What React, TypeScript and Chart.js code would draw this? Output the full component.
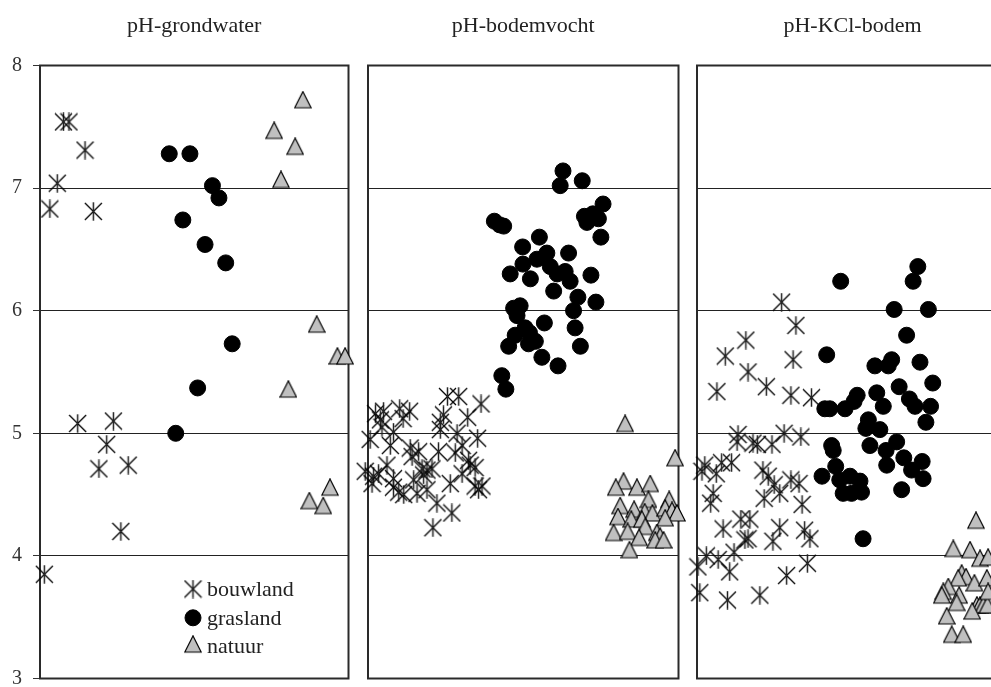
import React, { useEffect, useRef } from 'react';
import { Chart, registerables } from 'chart.js';
import { drawPoint } from 'chart.js/helpers';

Chart.register(...registerables);

// ---- Data (x = position within panel, 0..100; y = pH) ----
const Y_TICKS = [3, 4, 5, 6, 7, 8];
const PANEL_TITLES = ['pH-grondwater', 'pH-bodemvocht', 'pH-KCl-bodem'];
const SERIES_NAMES = ['bouwland', 'grasland', 'natuur'];

const grondwaterBouwland: number[][] = [
  [7.6, 7.54], [9.4, 7.54], [14.6, 7.31], [5.6, 7.04], [3.2, 6.83], [17.3, 6.81],
  [12.2, 5.08], [23.8, 5.10], [21.6, 4.91], [19.1, 4.71], [28.6, 4.74], [26.2, 4.20], [1.4, 3.85],
];
const grondwaterGrasland: number[][] = [
  [41.9, 7.28], [48.6, 7.28], [55.9, 7.02], [58.0, 6.92], [46.3, 6.74], [53.5, 6.54],
  [60.2, 6.39], [62.3, 5.73], [51.1, 5.37], [44.0, 5.00],
];
const grondwaterNatuur: number[][] = [
  [85.2, 7.70], [75.9, 7.45], [82.7, 7.32], [78.1, 7.05], [89.7, 5.87], [96.4, 5.61],
  [98.9, 5.61], [80.5, 5.34], [94.0, 4.54], [87.3, 4.43], [91.8, 4.39],
];

const bodemvochtBouwland: number[][] = [
  [25.6, 5.30], [29.2, 5.30], [36.4, 5.24], [2.4, 5.16], [5.0, 5.18], [10.2, 5.20], [13.4, 5.18],
  [4.0, 5.11], [11.3, 5.12], [24.3, 5.15], [32.1, 5.13], [23.3, 5.09], [4.5, 5.05], [8.2, 5.01],
  [23.3, 5.03], [28.7, 5.00], [0.7, 4.95], [35.3, 4.96], [7.2, 4.90], [13.6, 4.88], [16.3, 4.85],
  [22.7, 4.85], [28.1, 4.84], [30.3, 4.90], [14.2, 4.81], [6.1, 4.74], [32.4, 4.78], [32.9, 4.74],
  [34.5, 4.72], [17.4, 4.71], [19.0, 4.70], [20.6, 4.71], [17.9, 4.66], [-0.9, 4.69], [1.8, 4.65],
  [3.4, 4.67], [8.2, 4.63], [30.3, 4.67], [26.5, 4.59], [1.3, 4.59], [14.7, 4.62], [8.2, 4.56],
  [34.5, 4.57], [36.7, 4.57], [35.6, 4.54], [11.5, 4.50], [15.8, 4.51], [19.0, 4.54], [9.9, 4.52],
  [22.2, 4.43], [27.0, 4.35], [20.9, 4.23],
];
const bodemvochtGrasland: number[][] = [
  [62.8, 7.14], [61.9, 7.02], [69.0, 7.06], [75.7, 6.87], [69.7, 6.77], [72.4, 6.79], [74.2, 6.75],
  [70.5, 6.72], [75.0, 6.60], [40.7, 6.73], [42.4, 6.70], [43.7, 6.69], [55.2, 6.60], [49.8, 6.52],
  [57.6, 6.47], [64.6, 6.47], [54.4, 6.42], [49.9, 6.38], [58.7, 6.36], [45.8, 6.30], [52.3, 6.26],
  [60.9, 6.30], [63.5, 6.32], [65.1, 6.24], [71.8, 6.29], [59.8, 6.16], [67.6, 6.11], [73.4, 6.07],
  [46.9, 6.02], [49.0, 6.04], [48.0, 5.96], [66.2, 6.00], [56.8, 5.90], [50.6, 5.86], [47.4, 5.80],
  [52.0, 5.82], [66.7, 5.86], [45.3, 5.71], [51.7, 5.73], [53.9, 5.75], [56.0, 5.62], [68.4, 5.71],
  [61.2, 5.55], [43.1, 5.47], [44.4, 5.36],
];
const bodemvochtNatuur: number[][] = [
  [82.8, 5.06], [98.9, 4.78], [82.3, 4.59], [79.8, 4.54], [86.6, 4.54], [90.9, 4.57], [90.3, 4.44],
  [97.0, 4.44], [81.2, 4.39], [85.7, 4.36], [89.1, 4.34], [91.6, 4.33], [95.7, 4.37], [97.9, 4.35],
  [99.5, 4.33], [80.5, 4.30], [84.8, 4.28], [88.2, 4.28], [95.7, 4.29], [89.3, 4.22], [79.1, 4.17],
  [83.6, 4.18], [87.3, 4.13], [93.0, 4.17], [94.1, 4.14], [92.5, 4.11], [95.2, 4.11], [84.2, 4.03],
];

const kclBouwland: number[][] = [
  [27.2, 6.07], [31.8, 5.88], [15.7, 5.76], [9.1, 5.63], [30.9, 5.60], [16.4, 5.50], [6.4, 5.34],
  [22.3, 5.38], [30.2, 5.31], [36.8, 5.29], [13.2, 4.99], [12.9, 4.93], [18.0, 4.92], [19.4, 4.91],
  [24.1, 4.91], [28.0, 5.00], [33.4, 4.97], [2.5, 4.74], [6.2, 4.67], [7.9, 4.76], [11.1, 4.76],
  [1.6, 4.69], [21.2, 4.70], [22.9, 4.65], [24.8, 4.58], [30.2, 4.62], [32.8, 4.59], [26.6, 4.51],
  [5.2, 4.51], [4.4, 4.43], [21.6, 4.47], [33.8, 4.42], [17.0, 4.30], [14.1, 4.30], [8.4, 4.22],
  [15.4, 4.13], [16.4, 4.14], [26.6, 4.23], [24.4, 4.12], [34.6, 4.21], [36.3, 4.14], [11.9, 4.03],
  [3.0, 4.00], [6.8, 3.97], [0.3, 3.91], [10.5, 3.87], [35.5, 3.94], [28.8, 3.84], [0.9, 3.70],
  [9.8, 3.64], [20.2, 3.68],
];
const kclGrasland: number[][] = [
  [46.2, 6.24], [71.0, 6.36], [69.5, 6.24], [63.4, 6.01], [74.4, 6.01], [67.4, 5.80], [41.7, 5.64],
  [57.2, 5.55], [62.6, 5.60], [61.5, 5.55], [71.7, 5.58], [75.8, 5.41], [57.8, 5.33], [65.0, 5.38],
  [51.5, 5.31], [50.5, 5.26], [41.1, 5.20], [42.7, 5.20], [47.6, 5.20], [59.9, 5.22], [68.3, 5.28],
  [70.1, 5.22], [75.1, 5.22], [73.6, 5.09], [55.1, 5.11], [54.3, 5.04], [58.8, 5.03], [43.3, 4.90],
  [43.8, 4.86], [55.6, 4.90], [60.8, 4.86], [64.2, 4.93], [66.5, 4.80], [72.4, 4.77], [61.0, 4.74],
  [69.0, 4.70], [72.7, 4.63], [44.6, 4.73], [40.2, 4.65], [45.9, 4.62], [49.2, 4.65], [52.4, 4.61],
  [47.0, 4.51], [49.7, 4.51], [52.9, 4.52], [65.8, 4.54], [53.4, 4.14],
];
const kclNatuur: number[][] = [
  [89.7, 4.27], [82.4, 4.04], [87.8, 4.03], [91.0, 3.96], [93.6, 3.97], [85.1, 3.84], [86.5, 3.81],
  [84.0, 3.80], [89.2, 3.76], [93.2, 3.80], [80.8, 3.73], [79.2, 3.69], [78.7, 3.66], [84.3, 3.66],
  [83.5, 3.60], [90.0, 3.58], [91.0, 3.58], [92.1, 3.58], [93.4, 3.58], [88.5, 3.53], [80.3, 3.49],
  [81.9, 3.34], [85.6, 3.34], [93.6, 3.69],
];

const PANEL_SERIES = [
  [grondwaterBouwland, grondwaterGrasland, grondwaterNatuur],
  [bodemvochtBouwland, bodemvochtGrasland, bodemvochtNatuur],
  [kclBouwland, kclGrasland, kclNatuur],
];

// ---- Layout ----
const PANEL_GEOM = [
  { left: 40, right: 348.5, axis: 40 },
  { left: 368, right: 678.5, axis: 0 },
  { left: 697, right: 1008, axis: 0 },
];
const AREA_TOP = 65.5;
const AREA_BOTTOM = 678.5;
const CANVAS_H = 730;
const MARGIN = 20;
const FONT = "'Liberation Serif', 'Times New Roman', serif";

function makeStar(): HTMLCanvasElement {
  const c = document.createElement('canvas');
  c.width = 19;
  c.height = 19;
  const ctx = c.getContext('2d')!;
  ctx.strokeStyle = '#000';
  ctx.lineWidth = 1.25;
  ctx.beginPath();
  ctx.moveTo(1, 1); ctx.lineTo(18, 18);
  ctx.moveTo(18, 1); ctx.lineTo(1, 18);
  ctx.stroke();
  ctx.strokeStyle = '#222';
  ctx.lineWidth = 1.5;
  ctx.beginPath();
  ctx.moveTo(9.5, 0.3); ctx.lineTo(9.5, 18.7);
  ctx.stroke();
  return c;
}

function makeTriangle(): HTMLCanvasElement {
  const c = document.createElement('canvas');
  c.width = 18;
  c.height = 23;
  const ctx = c.getContext('2d')!;
  ctx.beginPath();
  ctx.moveTo(9, 0.8);
  ctx.lineTo(17.2, 17);
  ctx.lineTo(0.8, 17);
  ctx.closePath();
  ctx.fillStyle = '#c0c0c0';
  ctx.fill();
  ctx.strokeStyle = '#000';
  ctx.lineWidth = 1.2;
  ctx.stroke();
  return c;
}

const framePlugin = {
  id: 'panelFrame',
  beforeDatasetsDraw(chart: any) {
    const { ctx, chartArea } = chart;
    ctx.save();
    ctx.strokeStyle = '#2a2a2a';
    ctx.lineWidth = 2;
    ctx.strokeRect(chartArea.left, chartArea.top, chartArea.right - chartArea.left, chartArea.bottom - chartArea.top);
    ctx.restore();
  },
};

const inlineLegendPlugin = {
  id: 'inlineLegend',
  afterDatasetsDraw(chart: any, _args: any, opts: any) {
    if (!opts || !opts.display) return;
    const { ctx, chartArea } = chart;
    const mx = chartArea.left + 153;
    const tx = chartArea.left + 167;
    ctx.save();
    chart.data.datasets.forEach((ds: any, i: number) => {
      const y = chartArea.bottom - 89.5 + i * 28.8;
      ctx.fillStyle = ds.backgroundColor;
      ctx.strokeStyle = ds.borderColor;
      ctx.lineWidth = 1;
      drawPoint(ctx, { pointStyle: ds.pointStyle, radius: 8, borderWidth: 1, rotation: 0 } as any, mx, y);
      ctx.fillStyle = '#222';
      ctx.font = `22px ${FONT}`;
      ctx.textAlign = 'left';
      ctx.textBaseline = 'middle';
      ctx.fillText(ds.label, tx, y + 1);
    });
    ctx.restore();
  },
};

function Panel({ index }: { index: number }) {
  const ref = useRef<HTMLCanvasElement>(null);
  const g = PANEL_GEOM[index];
  const areaW = g.right - g.left;
  const width = Math.ceil(MARGIN + g.axis + areaW + MARGIN);
  const padRight = width - (MARGIN + g.axis + areaW);
  const cssLeft = g.left - g.axis - MARGIN;

  useEffect(() => {
    const star = makeStar();
    const tri = makeTriangle();
    const series = PANEL_SERIES[index];
    const toPts = (arr: number[][]) => arr.map(([x, y]) => ({ x, y }));
    const isFirst = index === 0;
    const titleFont = 22;
    const titleLine = titleFont * 1.2;
    const chart = new Chart(ref.current!, {
      type: 'scatter',
      data: {
        datasets: [
          {
            label: SERIES_NAMES[0],
            data: toPts(series[0]),
            pointStyle: star as any,
            pointRadius: 8,
            backgroundColor: '#000',
            borderColor: '#000',
            clip: false as any,
          },
          {
            label: SERIES_NAMES[1],
            data: toPts(series[1]),
            pointStyle: 'circle',
            pointRadius: 8,
            borderWidth: 1,
            backgroundColor: '#000',
            borderColor: '#000',
            clip: false as any,
          },
          {
            label: SERIES_NAMES[2],
            data: toPts(series[2]),
            pointStyle: tri as any,
            pointRadius: 8,
            backgroundColor: '#c0c0c0',
            borderColor: '#000',
            clip: false as any,
          },
        ],
      },
      options: {
        responsive: false,
        animation: false,
        devicePixelRatio: 1,
        events: [],
        layout: { padding: { left: MARGIN, right: padRight, top: 0, bottom: CANVAS_H - AREA_BOTTOM } },
        plugins: {
          legend: { display: false },
          tooltip: { enabled: false },
          title: {
            display: true,
            text: PANEL_TITLES[index],
            fullSize: false,
            color: '#222',
            font: { family: FONT, size: titleFont, weight: 'normal' as any, lineHeight: 1.2 },
            padding: { top: 13, bottom: AREA_TOP - 13 - titleLine },
          },
          inlineLegend: { display: isFirst },
        } as any,
        scales: {
          x: { type: 'linear', min: 0, max: 100, display: false },
          y: {
            type: 'linear',
            min: 3,
            max: 8,
            afterFit: (scale: any) => { scale.width = g.axis; },
            border: { display: false },
            grid: {
              color: '#222',
              lineWidth: 1,
              drawTicks: isFirst,
              tickLength: 7,
              tickColor: '#333',
            },
            ticks: {
              display: isFirst,
              stepSize: 1,
              padding: 11,
              color: '#333',
              font: { family: FONT, size: 20 },
              callback: (v: any) => (Y_TICKS.includes(Number(v)) ? String(v) : ''),
            },
          },
        },
      },
      plugins: [framePlugin, inlineLegendPlugin],
    } as any);
    return () => chart.destroy();
  }, [index]);

  return (
    <canvas
      ref={ref}
      width={width}
      height={CANVAS_H}
      style={{ position: 'absolute', left: cssLeft, top: 0, width, height: CANVAS_H }}
    />
  );
}

export default function App() {
  return (
    <div
      style={{
        position: 'fixed',
        left: 0,
        top: 0,
        width: 991,
        height: 687,
        overflow: 'hidden',
        background: '#fff',
      }}
    >
      <Panel index={0} />
      <Panel index={1} />
      <Panel index={2} />
    </div>
  );
}
